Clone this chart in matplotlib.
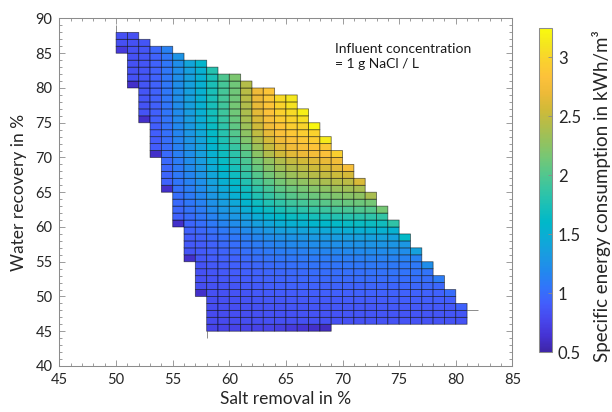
import numpy as np
import matplotlib
matplotlib.use("Agg")
import matplotlib.pyplot as plt
from matplotlib.colors import LinearSegmentedColormap
from matplotlib.ticker import MultipleLocator

# ---------------- data ----------------
salt_removal = list(range(50, 81))      # left edge of each cell column (%)
water_recovery = list(range(45, 88))    # bottom edge of each cell row (%)

# water recovery row -> (first salt-removal column, specific energy in kWh/m3)
energy_rows = {
    87: (50, [0.83, 0.83]),
    86: (50, [0.83, 0.84, 0.86]),
    85: (50, [0.69, 0.84, 0.86, 0.97, 1.13]),
    84: (51, [0.84, 0.86, 0.93, 1.06, 1.27]),
    83: (51, [0.84, 0.86, 0.93, 1.06, 1.22, 1.41, 1.57]),
    82: (51, [0.84, 0.86, 0.93, 1.06, 1.22, 1.36, 1.52, 1.79]),
    81: (51, [0.84, 0.86, 0.93, 1.06, 1.22, 1.36, 1.52, 1.74, 1.99, 2.18]),
    80: (51, [0.61, 0.86, 0.93, 1.06, 1.22, 1.36, 1.52, 1.74, 1.94, 2.13, 2.43]),
    79: (52, [0.86, 0.93, 1.06, 1.22, 1.36, 1.52, 1.74, 1.94, 2.13, 2.45, 2.72, 2.86]),
    78: (52, [0.86, 0.93, 1.06, 1.22, 1.36, 1.52, 1.74, 1.94, 2.13, 2.45, 2.70, 2.88, 3.03, 3.12]),
    77: (52, [0.85, 0.92, 1.05, 1.21, 1.35, 1.51, 1.73, 1.92, 2.15, 2.42, 2.68, 2.86, 2.99, 3.08]),
    76: (52, [0.85, 0.92, 1.05, 1.20, 1.34, 1.50, 1.71, 1.91, 2.13, 2.40, 2.65, 2.84, 2.96, 3.04, 3.17]),
    75: (52, [0.61, 0.92, 1.04, 1.19, 1.33, 1.48, 1.69, 1.88, 2.10, 2.37, 2.60, 2.79, 2.92, 2.99, 3.06]),
    74: (53, [0.91, 1.03, 1.18, 1.31, 1.46, 1.66, 1.84, 2.06, 2.32, 2.55, 2.73, 2.86, 2.94, 2.99, 3.22]),
    73: (53, [0.91, 1.02, 1.16, 1.29, 1.43, 1.62, 1.80, 2.01, 2.26, 2.48, 2.66, 2.80, 2.88, 2.93, 2.98]),
    72: (53, [0.90, 1.01, 1.15, 1.27, 1.40, 1.59, 1.76, 1.96, 2.20, 2.41, 2.58, 2.72, 2.81, 2.87, 2.92, 3.14]),
    71: (53, [0.90, 1.00, 1.13, 1.25, 1.38, 1.56, 1.72, 1.88, 2.12, 2.32, 2.50, 2.64, 2.73, 2.79, 2.85, 2.89]),
    70: (53, [0.61, 0.99, 1.12, 1.23, 1.35, 1.52, 1.68, 1.83, 2.02, 2.25, 2.42, 2.55, 2.64, 2.70, 2.76, 2.81, 2.95]),
    69: (54, [0.98, 1.10, 1.21, 1.33, 1.49, 1.64, 1.78, 1.97, 2.15, 2.29, 2.41, 2.50, 2.56, 2.62, 2.68, 2.74]),
    68: (54, [0.97, 1.09, 1.19, 1.30, 1.46, 1.60, 1.73, 1.91, 2.08, 2.22, 2.34, 2.42, 2.47, 2.54, 2.59, 2.65, 2.78]),
    67: (54, [0.96, 1.07, 1.16, 1.27, 1.42, 1.55, 1.68, 1.85, 2.01, 2.14, 2.25, 2.32, 2.38, 2.44, 2.49, 2.54, 2.58]),
    66: (54, [0.95, 1.05, 1.14, 1.24, 1.38, 1.50, 1.62, 1.78, 1.93, 2.04, 2.15, 2.22, 2.27, 2.33, 2.38, 2.43, 2.46, 2.60]),
    65: (54, [0.61, 1.03, 1.11, 1.20, 1.33, 1.45, 1.56, 1.70, 1.84, 1.95, 2.05, 2.11, 2.16, 2.21, 2.26, 2.31, 2.34, 2.37]),
    64: (55, [1.01, 1.09, 1.17, 1.29, 1.40, 1.50, 1.64, 1.77, 1.87, 1.96, 2.02, 2.07, 2.11, 2.16, 2.20, 2.23, 2.26, 2.38]),
    63: (55, [0.99, 1.06, 1.14, 1.25, 1.34, 1.44, 1.56, 1.68, 1.77, 1.85, 1.91, 1.95, 1.99, 2.03, 2.07, 2.10, 2.12, 2.15]),
    62: (55, [0.97, 1.03, 1.10, 1.20, 1.29, 1.37, 1.48, 1.58, 1.67, 1.74, 1.79, 1.83, 1.87, 1.90, 1.94, 1.96, 1.99, 2.01, 2.15]),
    61: (55, [0.94, 1.00, 1.06, 1.14, 1.22, 1.29, 1.38, 1.47, 1.55, 1.61, 1.65, 1.68, 1.72, 1.75, 1.78, 1.80, 1.82, 1.84, 1.86]),
    60: (55, [0.61, 0.96, 1.01, 1.08, 1.15, 1.21, 1.29, 1.36, 1.42, 1.48, 1.51, 1.54, 1.57, 1.59, 1.62, 1.64, 1.66, 1.67, 1.69, 1.85]),
    59: (56, [0.93, 0.97, 1.02, 1.08, 1.13, 1.19, 1.25, 1.30, 1.35, 1.38, 1.40, 1.42, 1.44, 1.46, 1.48, 1.49, 1.50, 1.52, 1.53]),
    58: (56, [0.90, 0.93, 0.98, 1.02, 1.06, 1.11, 1.16, 1.20, 1.24, 1.26, 1.28, 1.30, 1.31, 1.33, 1.34, 1.35, 1.36, 1.38, 1.38, 1.62]),
    57: (56, [0.88, 0.90, 0.94, 0.98, 1.01, 1.06, 1.10, 1.13, 1.16, 1.18, 1.19, 1.21, 1.22, 1.24, 1.25, 1.26, 1.27, 1.28, 1.28, 1.29]),
    56: (56, [0.86, 0.89, 0.92, 0.95, 0.98, 1.02, 1.05, 1.08, 1.11, 1.12, 1.13, 1.15, 1.16, 1.17, 1.18, 1.19, 1.20, 1.20, 1.21, 1.21, 1.38]),
    55: (56, [0.61, 0.87, 0.90, 0.92, 0.94, 0.98, 1.01, 1.03, 1.05, 1.06, 1.07, 1.09, 1.10, 1.11, 1.11, 1.12, 1.13, 1.13, 1.14, 1.14, 1.14]),
    54: (57, [0.85, 0.88, 0.90, 0.92, 0.94, 0.97, 0.99, 1.01, 1.02, 1.03, 1.04, 1.04, 1.05, 1.06, 1.06, 1.07, 1.08, 1.08, 1.08, 1.08, 1.22]),
    53: (57, [0.84, 0.86, 0.88, 0.90, 0.92, 0.94, 0.96, 0.97, 0.98, 0.99, 1.00, 1.01, 1.01, 1.02, 1.02, 1.03, 1.03, 1.04, 1.04, 1.04, 1.04]),
    52: (57, [0.83, 0.85, 0.87, 0.88, 0.90, 0.92, 0.94, 0.95, 0.96, 0.97, 0.97, 0.98, 0.99, 0.99, 1.00, 1.00, 1.00, 1.01, 1.01, 1.01, 1.01, 1.10]),
    51: (57, [0.82, 0.84, 0.85, 0.86, 0.88, 0.89, 0.91, 0.92, 0.93, 0.93, 0.94, 0.94, 0.95, 0.95, 0.95, 0.96, 0.96, 0.96, 0.97, 0.97, 0.97, 0.97]),
    50: (57, [0.61, 0.83, 0.84, 0.85, 0.86, 0.88, 0.89, 0.90, 0.90, 0.91, 0.91, 0.92, 0.92, 0.92, 0.93, 0.93, 0.93, 0.93, 0.94, 0.94, 0.94, 0.94, 1.00]),
    49: (58, [0.82, 0.83, 0.84, 0.85, 0.86, 0.87, 0.87, 0.88, 0.88, 0.89, 0.89, 0.89, 0.90, 0.90, 0.90, 0.90, 0.91, 0.91, 0.91, 0.91, 0.91, 0.91]),
    48: (58, [0.81, 0.82, 0.82, 0.83, 0.84, 0.85, 0.85, 0.86, 0.86, 0.86, 0.86, 0.87, 0.87, 0.87, 0.87, 0.88, 0.88, 0.88, 0.88, 0.88, 0.88, 0.88, 0.93]),
    47: (58, [0.80, 0.81, 0.82, 0.82, 0.83, 0.84, 0.84, 0.84, 0.85, 0.85, 0.85, 0.85, 0.86, 0.86, 0.86, 0.86, 0.86, 0.86, 0.86, 0.86, 0.86, 0.86, 0.86]),
    46: (58, [0.80, 0.80, 0.81, 0.82, 0.82, 0.83, 0.83, 0.83, 0.84, 0.84, 0.84, 0.84, 0.84, 0.84, 0.85, 0.85, 0.85, 0.85, 0.85, 0.85, 0.85, 0.85, 0.85]),
    45: (58, [0.75, 0.75, 0.75, 0.75, 0.75, 0.75, 0.72, 0.69, 0.66, 0.61, 0.58]),
}

x_ticks = [45, 50, 55, 60, 65, 70, 75, 80, 85]
y_ticks = [40, 45, 50, 55, 60, 65, 70, 75, 80, 85, 90]
cbar_ticks = [0.5, 1, 1.5, 2, 2.5, 3]
cbar_ticklabels = ["0.5", "1", "1.5", "2", "2.5", "3"]
energy_limits = (0.5, 3.25)

# ---------------- build grid ----------------
C = np.full((len(water_recovery), len(salt_removal)), np.nan)
for yv, (x0, vals) in energy_rows.items():
    r = water_recovery.index(yv)
    c0 = salt_removal.index(x0)
    n = min(len(vals), len(salt_removal) - c0)
    C[r, c0:c0 + n] = vals[:n]
Cm = np.ma.masked_invalid(C)
x_edges = salt_removal + [salt_removal[-1] + 1]
y_edges = water_recovery + [water_recovery[-1] + 1]

# parula-like colormap
parula_anchor = [
    (0.243, 0.149, 0.659), (0.270, 0.200, 0.830), (0.280, 0.280, 0.930),
    (0.260, 0.370, 0.990), (0.190, 0.460, 0.980), (0.130, 0.540, 0.930),
    (0.100, 0.610, 0.880), (0.050, 0.670, 0.840), (0.000, 0.720, 0.790),
    (0.100, 0.750, 0.720), (0.210, 0.770, 0.640), (0.330, 0.780, 0.550),
    (0.460, 0.780, 0.460), (0.580, 0.760, 0.370), (0.700, 0.740, 0.290),
    (0.820, 0.730, 0.220), (0.930, 0.730, 0.220), (0.990, 0.760, 0.230),
    (0.980, 0.820, 0.180), (0.960, 0.900, 0.120), (0.976, 0.983, 0.054)]
parula = LinearSegmentedColormap.from_list("parula", parula_anchor, N=256)

# ---------------- figure ----------------
plt.rcParams['font.family'] = ['Lato', 'DejaVu Sans']
txt = '#262626'
axc = '#8c8c8c'

fig = plt.figure(figsize=(6.12, 4.12), dpi=100)
ax = fig.add_axes([0.0972, 0.1117, 0.740, 0.8434])

# pcolor skips masked cells entirely (faces and edges)
mesh = ax.pcolor(x_edges, y_edges, Cm, cmap=parula,
                 vmin=energy_limits[0], vmax=energy_limits[1],
                 edgecolors=(0, 0, 0, 0.55), linewidth=0.6)

# dangling grid edges left by the surface plot at three corners
top_row = max(energy_rows)
bot_row = min(energy_rows)
right_col_bottoms = [yv for yv, (x0, v) in energy_rows.items() if x0 + len(v) - 1 == salt_removal[-1]]
seg_kw = dict(color=(0, 0, 0, 0.45), lw=0.7, solid_capstyle='butt')
ax.plot([energy_rows[top_row][0]] * 2, [top_row + 1, top_row + 2], **seg_kw)
ax.plot([energy_rows[bot_row][0]] * 2, [bot_row - 1, bot_row], **seg_kw)
ax.plot([salt_removal[-1] + 1, salt_removal[-1] + 2], [max(right_col_bottoms)] * 2, **seg_kw)

ax.set_xlim(45, 85)
ax.set_ylim(40, 90)
ax.set_xticks(x_ticks)
ax.set_yticks(y_ticks)
ax.xaxis.set_minor_locator(MultipleLocator(1))
ax.yaxis.set_minor_locator(MultipleLocator(1))
ax.tick_params(which='both', direction='in', top=True, right=True, color=axc,
               labelcolor=txt, labelsize=10.5, width=0.6)
ax.tick_params(which='major', length=4.5, pad=5)
ax.tick_params(which='minor', length=2.2)
for s in ax.spines.values():
    s.set_color(axc)
    s.set_linewidth(0.75)

ax.set_xlabel('Salt removal in %', fontsize=12.5, color=txt, labelpad=3)
ax.set_ylabel('Water recovery in %', fontsize=12.5, color=txt, labelpad=6)

ax.text(69.3, 84.5, 'Influent concentration\n= 1 g NaCl / L', fontsize=10,
        color='#1a1a1a', ha='left', va='center', linespacing=1.35)

# colorbar
cax = fig.add_axes([0.8807, 0.1456, 0.0217, 0.787])
cb = fig.colorbar(mesh, cax=cax, ticks=cbar_ticks)
cb.ax.set_yticklabels(cbar_ticklabels)
cb.outline.set_edgecolor(axc)
cb.outline.set_linewidth(0.75)
cb.ax.tick_params(direction='in', length=3, color=axc, labelcolor=txt,
                  labelsize=12, pad=4, width=0.6)
fig.text(0.983, 0.525, 'Specific energy consumption in kWh/m³', rotation=90,
         ha='center', va='center', fontsize=13.5, color=txt)

fig.savefig('out.png', dpi=100)
